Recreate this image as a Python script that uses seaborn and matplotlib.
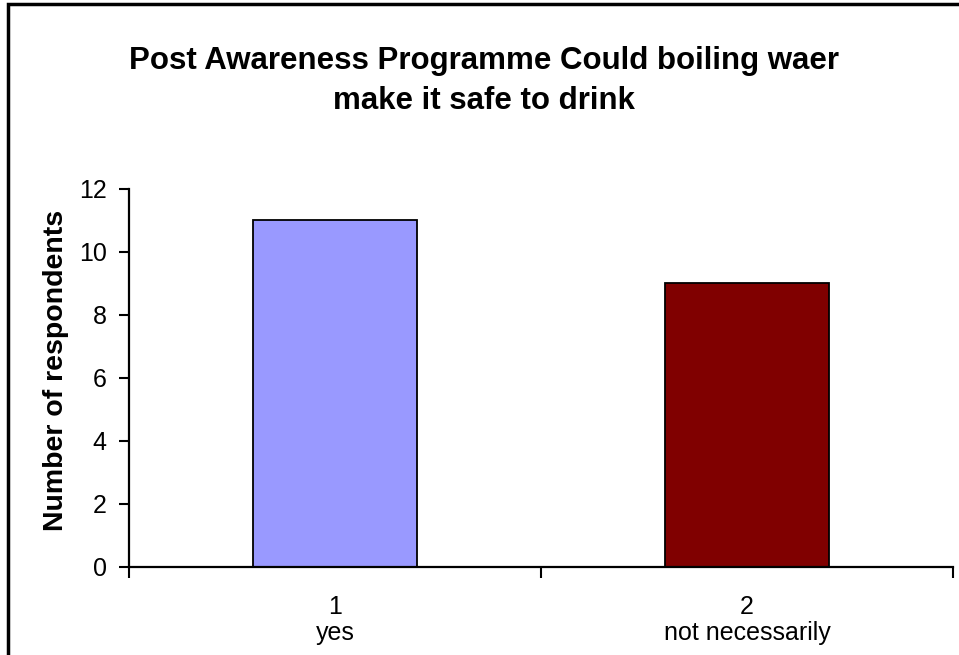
import matplotlib.pyplot as plt
import pandas as pd
import seaborn as sns
from matplotlib.patches import Rectangle

# chart data
answers = ["1\nyes", "2\nnot necessarily"]
respondents = [11, 9]
bar_colors = ["#9999FF", "#800000"]

df = pd.DataFrame({"answer": answers, "respondents": respondents})

sns.set_theme(style="white")
plt.rcParams["font.family"] = ["Liberation Sans", "DejaVu Sans"]
plt.rcParams.update({"text.color": "black", "axes.labelcolor": "black",
                     "xtick.color": "black", "ytick.color": "black"})

fig = plt.figure(figsize=(9.59, 6.55), dpi=100)
ax = fig.add_axes([0.1345, 0.1344, 0.8592, 0.5771])

sns.barplot(
    data=df, x="answer", y="respondents", hue="answer", order=answers,
    palette=dict(zip(answers, bar_colors)), saturation=1, width=0.4,
    edgecolor="black", linewidth=1.3, legend=False, ax=ax,
)

# y axis
ax.set_ylim(0, 12)
ax.set_yticks(range(0, 13, 2))
ax.tick_params(axis="y", direction="out", length=7, width=1.5, pad=9,
               labelsize=18, colors="black", left=True)
ax.set_ylabel("Number of respondents", fontsize=20.5, fontweight="bold", color="black")
ax.yaxis.set_label_coords(-0.073, 0.52)

# x axis: boundary tick marks, labels centred under the bars
ax.set_xlim(-0.5, 1.5)
ax.set_xticks([-0.5, 0.5, 1.5])
ax.set_xticklabels(["", "", ""])
ax.tick_params(axis="x", which="major", direction="out", length=8, width=1.5,
               colors="black", bottom=True)
ax.set_xticks([0, 1], minor=True)
ax.set_xticklabels(answers, minor=True, fontsize=18, linespacing=1.1)
ax.tick_params(axis="x", which="minor", length=0, pad=20, bottom=True)
ax.set_xlabel("")

for side in ["top", "right"]:
    ax.spines[side].set_visible(False)
for side in ["left", "bottom"]:
    ax.spines[side].set_color("black")
    ax.spines[side].set_linewidth(1.6)

fig.text(0.505, 0.876, "Post Awareness Programme Could boiling waer\nmake it safe to drink",
         ha="center", va="center", fontsize=22.5, fontweight="bold", linespacing=1.45)

# chart area border (cut off at right and bottom in the reference)
fig.add_artist(Rectangle((8 / 959, -0.05), 1.2, 1.05 - 3.5 / 655, transform=fig.transFigure,
                         fill=False, edgecolor="black", linewidth=2.5))

fig.savefig("out.png", dpi=100)
